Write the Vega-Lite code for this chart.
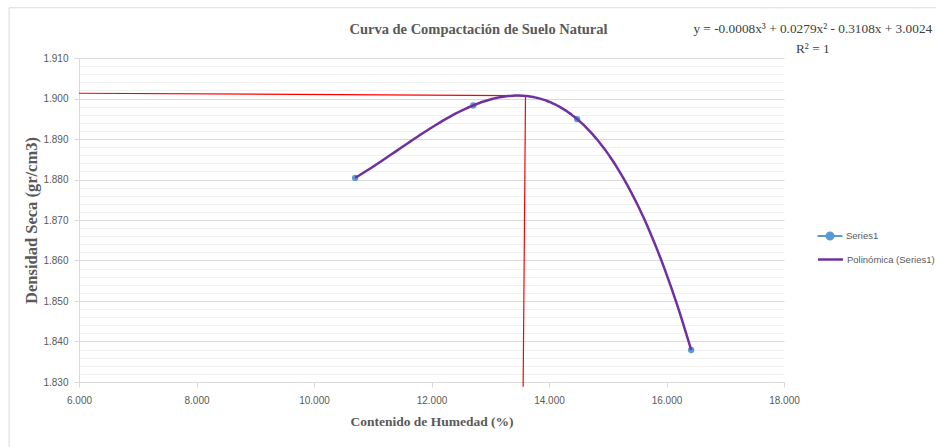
{
  "$schema": "https://vega.github.io/schema/vega-lite/v6.json",
  "width": 705,
  "height": 324,
  "autosize": {"type": "none"},
  "padding": {"left": 79, "top": 58, "right": 152, "bottom": 65},
  "background": "white",
  "config": {"view": {"stroke": null}, "font": "Liberation Sans"},
  "title": {
    "text": "Curva de Compactación de Suelo Natural",
    "font": "Liberation Serif",
    "fontSize": 14.5,
    "fontWeight": "bold",
    "color": "#595959",
    "anchor": "middle",
    "dx": 47,
    "offset": -30
  },
  "datasets": {
    "puntos": [
      {"humedad": 10.70, "densidad": 1.8804, "serie": "Series1"},
      {"humedad": 12.71, "densidad": 1.8983, "serie": "Series1"},
      {"humedad": 14.48, "densidad": 1.8949, "serie": "Series1"},
      {"humedad": 16.42, "densidad": 1.8379, "serie": "Series1"}
    ],
    "rojo": [
      {"humedad": 6.0, "densidad": 1.9013, "o": 1},
      {"humedad": 13.6, "densidad": 1.9007, "o": 2},
      {"humedad": 13.56, "densidad": 1.8288, "o": 3}
    ],
    "marco": [
      {"humedad": 4.81, "humedad2": 22.0, "densidad": 1.9224, "densidad2": 1.79}
    ],
    "ecuacion": [
      {"humedad": 18.49, "densidad": 1.9171, "texto": ["y = -0.0008x³ + 0.0279x² - 0.3108x + 3.0024", "R² = 1"]}
    ]
  },
  "encoding": {
    "x": {
      "field": "humedad", "type": "quantitative",
      "scale": {"domain": [6, 18], "nice": false, "zero": false},
      "axis": {
        "values": [6, 8, 10, 12, 14, 16, 18],
        "format": ".3f",
        "grid": false,
        "labelFlush": false,
        "labelOverlap": false,
        "title": "Contenido de Humedad (%)",
        "titleFont": "Liberation Serif",
        "titleFontSize": 13.5,
        "titleFontWeight": "bold",
        "titleColor": "#595959",
        "titlePadding": 9,
        "labelFont": "Liberation Sans",
        "labelFontSize": 10,
        "labelColor": "#595959",
        "labelPadding": 8,
        "domainColor": "#D9D9D9",
        "tickColor": "#D9D9D9",
        "tickSize": 5
      }
    }
  },
  "resolve": {"axis": {"y": "independent"}},
  "layer": [
    {
      "data": {"name": "marco"},
      "mark": {"type": "rect", "fill": null, "stroke": "#D9D9D9", "strokeWidth": 1, "clip": false},
      "encoding": {
        "x2": {"field": "humedad2"},
        "y": {"field": "densidad", "type": "quantitative", "scale": {"domain": [1.83, 1.91], "nice": false, "zero": false}, "axis": null},
        "y2": {"field": "densidad2"}
      }
    },
    {
      "data": {"name": "rojo"},
      "mark": {"type": "line", "color": "#FF0000", "strokeWidth": 1.2, "clip": false},
      "encoding": {
        "y": {
          "field": "densidad", "type": "quantitative",
          "scale": {"domain": [1.83, 1.91], "nice": false, "zero": false},
          "axis": {
            "values": [1.83, 1.84, 1.85, 1.86, 1.87, 1.88, 1.89, 1.9, 1.91],
            "format": ".3f",
            "grid": true,
            "gridColor": "#D9D9D9",
            "gridWidth": 1,
            "labelFlush": false,
            "title": "Densidad Seca (gr/cm3)",
            "titleFont": "Liberation Serif",
            "titleFontSize": 16.5,
            "titleFontWeight": "bold",
            "titleColor": "#595959",
            "titlePadding": 3,
            "labelFont": "Liberation Sans",
            "labelFontSize": 10,
            "labelColor": "#595959",
            "labelPadding": 6,
            "domainColor": "#D9D9D9",
            "tickColor": "#D9D9D9",
            "tickSize": 5
          }
        },
        "order": {"field": "o", "type": "quantitative"}
      }
    },
    {
      "data": {"name": "puntos"},
      "mark": {"type": "point", "filled": true, "opacity": 1, "size": 40},
      "encoding": {
        "y": {
          "field": "densidad", "type": "quantitative",
          "axis": {
            "orient": "right",
            "values": [1.832, 1.834, 1.836, 1.838, 1.842, 1.844, 1.846, 1.848, 1.852, 1.854, 1.856, 1.858, 1.862, 1.864, 1.866, 1.868, 1.872, 1.874, 1.876, 1.878, 1.882, 1.884, 1.886, 1.888, 1.892, 1.894, 1.896, 1.898, 1.902, 1.904, 1.906, 1.908],
            "grid": true,
            "gridColor": "#F0F0F0",
            "gridWidth": 1,
            "labels": false,
            "ticks": false,
            "domain": false,
            "title": null
          }
        },
        "fill": {
          "field": "serie", "type": "nominal",
          "scale": {"domain": ["Series1"], "range": ["#5B9BD5"]},
          "legend": {
            "title": null,
            "orient": "none",
            "legendX": 740,
            "legendY": 167,
            "padding": 0,
            "symbolType": "M-1.25,0H1.25M-0.35,0A0.35,0.35 0 1,0 0.35,0A0.35,0.35 0 1,0 -0.35,0Z",
            "symbolSize": 400,
            "symbolStrokeColor": "#5B9BD5",
            "symbolStrokeWidth": 2,
            "symbolOpacity": 1,
            "labelOffset": 5,
            "labelFont": "Liberation Sans",
            "labelFontSize": 9.5,
            "labelColor": "#595959"
          }
        }
      }
    },
    {
      "data": {"name": "puntos"},
      "transform": [
        {"regression": "densidad", "on": "humedad", "method": "poly", "order": 3}
      ],
      "mark": {"type": "line", "strokeWidth": 2.5, "interpolate": "monotone"},
      "encoding": {
        "y": {"field": "densidad", "type": "quantitative", "axis": null},
        "stroke": {
          "datum": "Polinómica (Series1)", "type": "nominal",
          "scale": {"domain": ["Polinómica (Series1)"], "range": ["#7030A0"]},
          "legend": {
            "title": null,
            "orient": "none",
            "legendX": 740,
            "legendY": 190,
            "padding": 0,
            "symbolType": "M-1.25,0H1.25",
            "symbolSize": 400,
            "symbolStrokeWidth": 2.5,
            "symbolOpacity": 1,
            "labelOffset": 5,
            "labelFont": "Liberation Sans",
            "labelFontSize": 9.5,
            "labelColor": "#595959"
          }
        }
      }
    },
    {
      "data": {"name": "ecuacion"},
      "mark": {"type": "text", "font": "Liberation Serif", "fontSize": 13.3, "color": "#404040", "align": "center", "baseline": "middle", "lineHeight": 20, "clip": false},
      "encoding": {
        "y": {"field": "densidad", "type": "quantitative", "axis": null},
        "text": {"field": "texto"}
      }
    }
  ]
}
